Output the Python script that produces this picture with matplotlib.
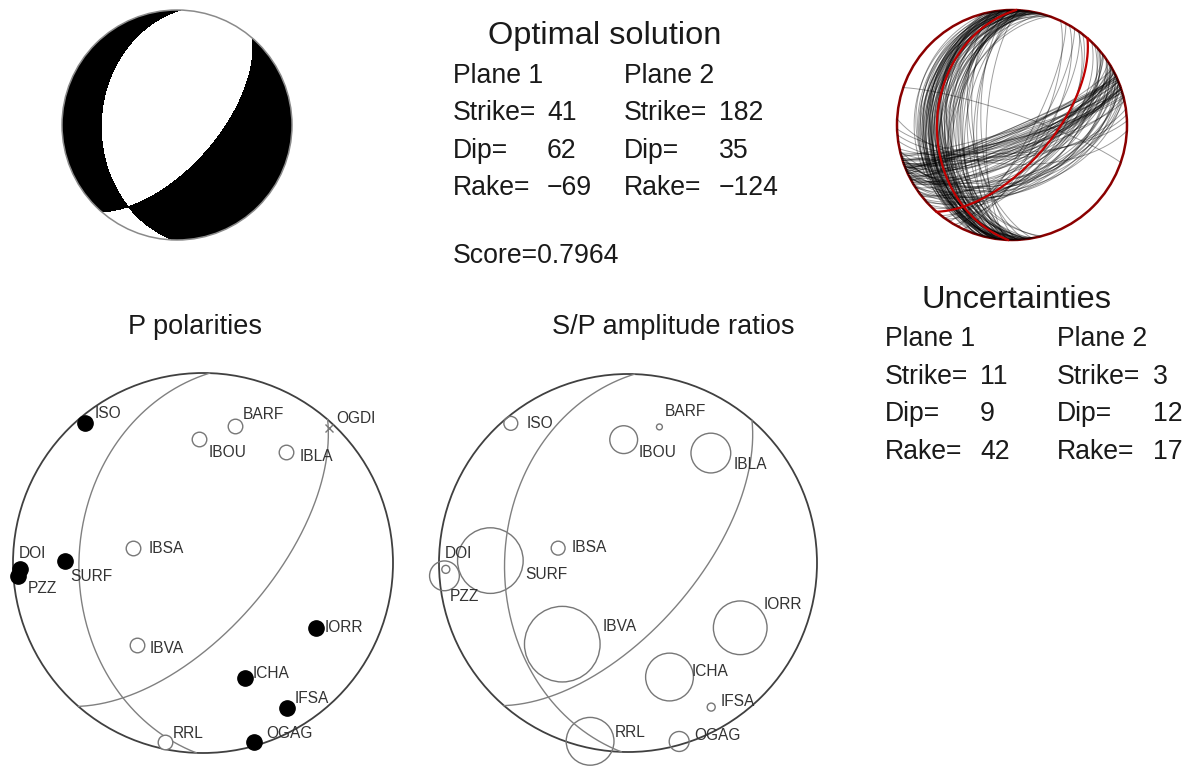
import numpy as np
import matplotlib.pyplot as plt
from matplotlib.patches import Circle

plt.rcParams['font.family'] = ['Liberation Sans', 'DejaVu Sans']

W, H = 1193, 769

# optimal focal mechanism (strike, dip, rake)
plane1 = (41, 62, -69)
plane2 = (182, 35, -124)
score = 0.7964
# uncertainties (strike, dip, rake)
unc1 = (11, 9, 42)
unc2 = (3, 12, 17)

stations = ['ISO', 'BARF', 'IBOU', 'IBLA', 'OGDI', 'IBSA', 'DOI', 'PZZ',
            'SURF', 'IBVA', 'IORR', 'ICHA', 'IFSA', 'RRL', 'OGAG']
azimuth = [320, 13, 358, 37, 43, 282, 268, 266, 271, 219, 120, 160, 150, 192, 164]
takeoff = [86, 63, 55, 62, 87, 31, 86, 87, 62, 46, 58, 54, 77, 86, 88]
polarity = [1, -1, -1, -1, 0, -1, 1, 1, 1, -1, 1, 1, 1, -1, 1]
sp_ratio = [0.92, 0.39, 1.84, 2.63, None, 0.92, 0.53, 1.97, 4.34, 5.0, 3.55, 3.16, 0.53, 3.16, 1.32]

# accepted solutions around the optimum (strike, dip of each nodal plane)
cloud_strike_a = [182, 176, 188, 171, 194, 185, 179, 168, 190, 183,
                  174, 197, 186, 180, 172, 192, 177, 189, 184, 170,
                  195, 181, 175, 187, 178, 193, 183, 173, 190, 185,
                  179, 200, 176, 188, 182, 169, 191, 186, 180, 174,
                  196, 184, 177, 189, 181, 172, 193, 186, 178, 183,
                  175, 198, 187, 180, 171, 166, 185, 192, 179, 188,
                  174, 182, 195, 177, 184, 190, 170, 186, 181, 176,
                  199, 183, 173, 188, 179, 165, 191, 184, 178, 187]
cloud_dip_a = [35, 28, 31, 22, 38, 26, 33, 18, 29, 41,
               24, 34, 20, 30, 37, 27, 45, 32, 23, 39,
               25, 36, 48, 29, 21, 33, 52, 27, 40, 31,
               16, 28, 35, 57, 24, 30, 43, 26, 38, 62,
               22, 34, 29, 47, 19, 36, 31, 25, 68, 33,
               28, 39, 23, 54, 32, 44, 50, 42, 58, 46,
               37, 65, 49, 41, 55, 35, 60, 44, 51, 39,
               47, 72, 43, 38, 53, 40, 45, 63, 30, 48]
cloud_strike_b = [41, 63, 68, 72, 57, 66, 75, 60, 70, 52,
                  65, 77, 62, 69, 48, 73, 58, 67, 38, 71,
                  64, 76, 55, 68, 35, 61, 74, 66, 46, 63,
                  71, 30, 59, 67, 78, 50, 65, 25, 70, 62,
                  55, 73, 33, 68, 64, 44, 75, 60, 28, 69,
                  66, 53, 72, 63, 36, 67, 82, 57, 49, 88,
                  69, 74, 62, 71, 76, 67, 64, 72, 59, 73,
                  68, 93, 61, 70, 65, 85, 52, 71, 66, 289]
cloud_dip_b = [62, 78, 48, 81, 69, 85, 44, 72, 80, 58,
               77, 52, 66, 71, 55, 79, 46, 88, 60, 73,
               75, 70, 52, 82, 57, 68, 86, 64, 50, 76,
               72, 65, 48, 42, 74, 54, 84, 70, 50, 61,
               45, 77, 73, 87, 59, 56, 80, 66, 76, 69,
               53, 62, 78, 49, 68, 71, 66, 58, 51, 70,
               79, 47, 74, 53, 80, 86, 43, 84, 70, 49,
               81, 62, 83, 73, 85, 68, 64, 75, 88, 82]

# label nudges in pixels (layout only)
nudge_p = {'ISO': (9, 9), 'BARF': (8, 12), 'IBOU': (10, -13), 'IBLA': (13, -4),
           'OGDI': (7, 9), 'IBSA': (16, 0), 'DOI': (-1, 16), 'PZZ': (9, -13),
           'SURF': (6, -16), 'IBVA': (13, -4), 'IORR': (9, 1), 'ICHA': (8, 4),
           'IFSA': (8, 9), 'RRL': (8, 9), 'OGAG': (12, 9)}
nudge_sp = {'ISO': (16, 0), 'BARF': (5, 15), 'IBOU': (15, -13), 'IBLA': (23, -11),
            'IBSA': (13, 1), 'DOI': (-1, 16), 'PZZ': (5, -21), 'SURF': (35, -14),
            'IBVA': (40, 18), 'IORR': (23, 23), 'ICHA': (22, 6), 'IFSA': (9, 6),
            'RRL': (25, 9), 'OGAG': (15, 6)}


def project(trend, plunge):
    # Schmidt (equal-area), lower hemisphere
    r = np.sqrt(2) * np.sin(np.radians(90 - np.asarray(plunge)) / 2)
    t = np.radians(trend)
    return r * np.sin(t), r * np.cos(t)


def nodal_line(strike, dip, n=241):
    s, d = np.radians(strike), np.radians(dip)
    lam = np.linspace(0, np.pi, n)
    north = np.cos(lam) * np.cos(s) - np.sin(lam) * np.cos(d) * np.sin(s)
    east = np.cos(lam) * np.sin(s) + np.sin(lam) * np.cos(d) * np.cos(s)
    down = np.sin(lam) * np.sin(d)
    trend = np.degrees(np.arctan2(east, north))
    plunge = np.degrees(np.arcsin(np.clip(down, -1, 1)))
    return project(trend, plunge)


def fault_vectors(strike, dip, rake):
    s, d, l = np.radians(strike), np.radians(dip), np.radians(rake)
    n = np.array([-np.sin(d) * np.sin(s), np.sin(d) * np.cos(s), -np.cos(d)])
    u = np.array([np.cos(l) * np.cos(s) + np.cos(d) * np.sin(l) * np.sin(s),
                  np.cos(l) * np.sin(s) - np.cos(d) * np.sin(l) * np.cos(s),
                  -np.sin(l) * np.sin(d)])
    return n, u


fig = plt.figure(figsize=(W / 100, H / 100), dpi=100)


def stereo_axes(cx, cy, R, pad=1.2):
    ax = fig.add_axes([(cx - R * pad) / W, 1 - (cy + R * pad) / H,
                       2 * R * pad / W, 2 * R * pad / H])
    ax.set_xlim(-pad, pad)
    ax.set_ylim(-pad, pad)
    ax.axis('off')
    return ax


def ftext(x, y, s, size, ha='left'):
    fig.text(x / W, 1 - y / H, s, fontsize=size, ha=ha, va='baseline', color='#1a1a1a')


def fmt(v):
    return str(v).replace('-', '\u2212')


# ---- beachball
ax = stereo_axes(177, 125, 115)
g = np.linspace(-1, 1, 901)
X, Y = np.meshgrid(g, g)
r = np.hypot(X, Y)
inc = 2 * np.arcsin(np.clip(r / np.sqrt(2), 0, 1))
tr = np.arctan2(X, Y)
gam = np.stack([np.sin(inc) * np.cos(tr), np.sin(inc) * np.sin(tr), np.cos(inc)])
n, u = fault_vectors(*plane1)
amp = np.einsum('i,ijk->jk', n, gam) * np.einsum('i,ijk->jk', u, gam)
amp[r > 1.002] = np.nan
cs = ax.contourf(X, Y, amp, levels=[0, np.nanmax(amp) + 1], colors='k')
clip = Circle((0, 0), 1, transform=ax.transData)
cs.set_clip_path(clip)
ax.add_patch(Circle((0, 0), 1, fill=False, ec='#8a8a8a', lw=1.1))

# ---- uncertainty cloud
ax = stereo_axes(1012, 125, 115)
for s, d in zip(cloud_strike_a + cloud_strike_b, cloud_dip_a + cloud_dip_b):
    x, y = nodal_line(s, d)
    ax.plot(x, y, color='k', alpha=0.38, lw=0.7)
for pl in (plane1, plane2):
    x, y = nodal_line(pl[0], pl[1])
    ax.plot(x, y, color='#c00000', lw=1.6)
ax.add_patch(Circle((0, 0), 1, fill=False, ec='#8b0000', lw=1.8))

# ---- P polarities
ax = stereo_axes(203, 563, 190)
ax.add_patch(Circle((0, 0), 1, fill=False, ec='#404040', lw=1.3))
for pl in (plane1, plane2):
    x, y = nodal_line(pl[0], pl[1])
    ax.plot(x, y, color='#808080', lw=1.0)
sx, sy = project(np.array(azimuth), 90 - np.array(takeoff))
for name, x, y, p in zip(stations, sx, sy, polarity):
    if p > 0:
        ax.plot(x, y, 'o', ms=11, mfc='k', mec='k', zorder=3)
    elif p < 0:
        ax.plot(x, y, 'o', ms=10.5, mfc='white', mec='#777777', mew=1.0, zorder=3)
    else:
        ax.plot(x, y, 'x', ms=6, mec='#777777', mew=1.0, zorder=3)
    ax.annotate(name, (x, y), xytext=nudge_p[name], textcoords='offset pixels',
                ha='left', va='center', fontsize=11.2, color='#333333')

# ---- S/P amplitude ratios
ax = stereo_axes(628, 563, 189)
ax.add_patch(Circle((0, 0), 1, fill=False, ec='#404040', lw=1.3))
for pl in (plane1, plane2):
    x, y = nodal_line(pl[0], pl[1])
    ax.plot(x, y, color='#808080', lw=1.0)
for name, x, y, ratio in zip(stations, sx, sy, sp_ratio):
    if ratio is None:
        continue
    ax.add_patch(Circle((x, y), 0.04 * ratio, fill=False, ec='#777777', lw=1.0, clip_on=False))
    ax.annotate(name, (x, y), xytext=nudge_sp[name], textcoords='offset pixels',
                ha='left', va='center', fontsize=11.2, color='#333333')

# ---- text blocks
BODY, TITLE = 19.2, 23.4
ftext(605, 44, 'Optimal solution', TITLE, ha='center')
cols = [(453, 547, plane1), (624, 719, plane2)]
for k, (xl, xv, pl) in enumerate(cols):
    ftext(xl, 83, f'Plane {k + 1}', BODY)
    for j, (lab, v) in enumerate(zip(['Strike=', 'Dip=', 'Rake='], pl)):
        ftext(xl, 120 + 37.5 * j, lab, BODY)
        ftext(xv, 120 + 37.5 * j, fmt(v), BODY)
ftext(453, 263, f'Score={score:.4f}', BODY)

ftext(1017, 308, 'Uncertainties', TITLE, ha='center')
cols = [(885, 980, unc1), (1057, 1153, unc2)]
for k, (xl, xv, pl) in enumerate(cols):
    ftext(xl, 346, f'Plane {k + 1}', BODY)
    for j, (lab, v) in enumerate(zip(['Strike=', 'Dip=', 'Rake='], pl)):
        ftext(xl, 384 + 37.5 * j, lab, BODY)
        ftext(xv, 384 + 37.5 * j, fmt(v), BODY)

ftext(195, 334, 'P polarities', 19.5, ha='center')
ftext(673, 334, 'S/P amplitude ratios', 19.5, ha='center')

fig.savefig('out.png', dpi=100)
